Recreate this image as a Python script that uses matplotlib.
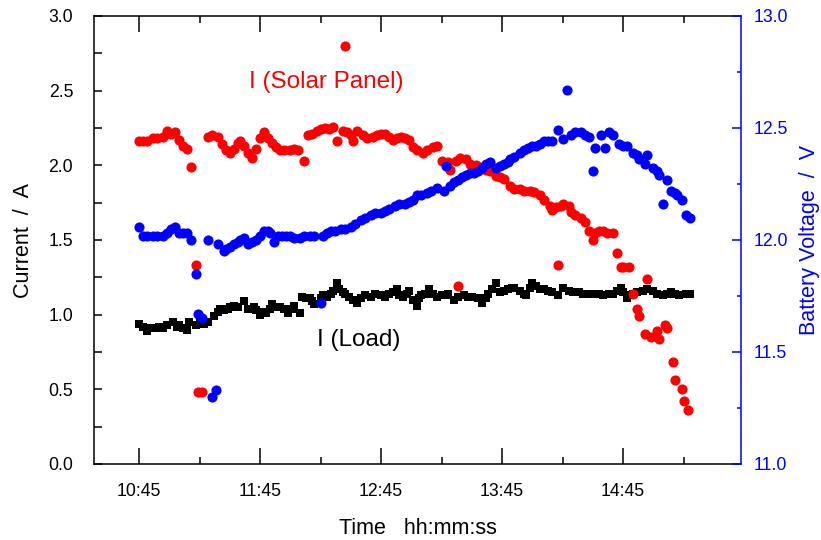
import matplotlib
matplotlib.use("Agg")
import matplotlib.pyplot as plt
from matplotlib.ticker import MultipleLocator, FixedLocator, FixedFormatter, FormatStrFormatter

plt.rcParams['font.family'] = ['Liberation Sans', 'DejaVu Sans']

# ---------------- data ----------------
solar_time = ["10:45","10:47","10:49","10:52","10:54","10:57","10:59","11:01","11:03","11:05","11:07","11:09",
              "11:11","11:13","11:14","11:16","11:19","11:21","11:24","11:26","11:28","11:30","11:32","11:34",
              "11:35","11:37","11:39","11:41","11:43","11:45","11:47","11:49","11:51","11:53","11:55","11:57",
              "12:00","12:02","12:04","12:07","12:09","12:11","12:13","12:15","12:17","12:19","12:21","12:23",
              "12:26","12:27","12:28","12:30","12:31","12:33","12:36","12:38","12:41","12:43","12:45","12:47",
              "12:49","12:51","12:53","12:55","12:57","12:59","13:01","13:03","13:06","13:08","13:11","13:13",
              "13:15","13:18","13:19","13:22","13:23","13:24","13:27","13:29","13:32","13:34","13:37","13:39",
              "13:42","13:44","13:46","13:49","13:51","13:54","13:56","13:59","14:01","14:04","14:06","14:09",
              "14:10","14:12","14:13","14:14","14:15","14:18","14:19","14:21","14:24","14:26","14:28","14:30",
              "14:31","14:33","14:35","14:37","14:40","14:42","14:44","14:45","14:48","14:50","14:52","14:53",
              "14:56","14:57","14:59","15:02","15:03","15:06","15:07","15:10","15:11","15:14","15:15","15:17"]
solar_current = [2.16,2.16,2.16,2.18,2.18,2.19,2.23,2.21,2.22,2.17,2.13,2.11,
                 1.99,1.33,0.48,0.48,2.19,2.20,2.19,2.14,2.10,2.08,2.11,2.15,
                 2.16,2.13,2.08,2.05,2.11,2.18,2.22,2.18,2.15,2.12,2.10,2.10,
                 2.10,2.11,2.10,2.03,2.20,2.21,2.23,2.24,2.25,2.24,2.26,2.16,
                 2.23,2.80,2.22,2.20,2.16,2.23,2.20,2.18,2.19,2.20,2.21,2.21,
                 2.19,2.17,2.18,2.19,2.18,2.17,2.12,2.10,2.08,2.10,2.12,2.13,
                 2.03,2.02,1.97,2.03,1.19,2.05,2.04,2.01,2.00,1.99,1.97,1.96,
                 1.93,1.92,1.91,1.86,1.84,1.84,1.83,1.83,1.82,1.80,1.77,1.73,
                 1.70,1.72,1.33,1.73,1.74,1.73,1.69,1.67,1.65,1.62,1.56,1.50,
                 1.55,1.56,1.56,1.55,1.55,1.41,1.32,1.32,1.32,1.14,1.04,0.99,
                 0.87,1.24,0.85,0.89,0.84,0.93,0.91,0.68,0.56,0.50,0.42,0.36]

load_time = ["10:45","10:47","10:49","10:51","10:53","10:55","10:57","10:59","11:02","11:04","11:05","11:07",
             "11:09","11:10","11:13","11:15","11:17","11:19","11:22","11:24","11:25","11:27","11:29","11:30",
             "11:32","11:34","11:37","11:39","11:42","11:43","11:45","11:47","11:48","11:50","11:51","11:53",
             "11:55","11:57","11:59","12:01","12:02","12:05","12:06","12:08","12:10","12:11","12:12","12:15",
             "12:16","12:18","12:20","12:21","12:23","12:24","12:26","12:27","12:29","12:31","12:33","12:35",
             "12:37","12:40","12:42","12:45","12:47","12:49","12:51","12:53","12:54","12:56","12:58","12:59",
             "13:01","13:03","13:04","13:05","13:07","13:09","13:11","13:13","13:15","13:17","13:18","13:21",
             "13:23","13:26","13:28","13:30","13:33","13:35","13:37","13:38","13:40","13:42","13:44","13:46",
             "13:48","13:50","13:51","13:54","13:56","13:57","13:59","14:00","14:02","14:04","14:06","14:08",
             "14:10","14:13","14:15","14:18","14:20","14:23","14:25","14:28","14:30","14:33","14:35","14:38",
             "14:40","14:42","14:44","14:45","14:47","14:48","14:50","14:52","14:55","14:57","15:00","15:02",
             "15:05","15:07","15:09","15:11","15:13","15:16","15:18"]
load_current = [0.94,0.92,0.89,0.91,0.91,0.92,0.91,0.93,0.95,0.92,0.93,0.91,
                0.90,0.95,0.93,0.96,0.94,0.95,0.99,1.02,1.04,1.03,1.04,1.05,
                1.06,1.05,1.09,1.04,1.05,1.03,1.00,1.02,1.01,1.04,1.07,1.05,
                1.05,1.04,1.01,1.04,1.06,1.01,1.12,1.11,1.11,1.09,1.07,1.11,
                1.13,1.12,1.14,1.16,1.21,1.17,1.15,1.14,1.12,1.10,1.08,1.11,
                1.13,1.12,1.14,1.13,1.12,1.14,1.15,1.17,1.13,1.12,1.14,1.16,
                1.10,1.06,1.11,1.13,1.14,1.17,1.14,1.12,1.13,1.13,1.14,1.10,
                1.12,1.13,1.12,1.12,1.11,1.08,1.11,1.14,1.17,1.21,1.15,1.16,
                1.17,1.18,1.18,1.16,1.14,1.13,1.18,1.21,1.19,1.17,1.17,1.16,
                1.15,1.13,1.18,1.16,1.15,1.15,1.14,1.14,1.14,1.14,1.13,1.14,
                1.14,1.16,1.18,1.15,1.11,1.13,1.14,1.15,1.16,1.17,1.16,1.14,
                1.13,1.14,1.15,1.14,1.13,1.14,1.14]

battery_time = ["10:45","10:47","10:49","10:52","10:54","10:57","10:59","11:01","11:03","11:05","11:07","11:09",
                "11:11","11:13","11:14","11:16","11:19","11:21","11:23","11:24","11:27","11:28","11:30","11:32",
                "11:34","11:35","11:37","11:39","11:41","11:43","11:45","11:47","11:49","11:50","11:52","11:54",
                "11:56","11:58","12:00","12:02","12:05","12:07","12:10","12:12","12:15","12:16","12:18","12:20",
                "12:22","12:25","12:27","12:30","12:32","12:35","12:37","12:40","12:42","12:45","12:47","12:49",
                "12:52","12:54","12:57","12:59","13:01","13:03","13:05","13:08","13:10","13:13","13:16","13:17",
                "13:19","13:21","13:23","13:25","13:27","13:29","13:31","13:33","13:35","13:37","13:39","13:42",
                "13:44","13:46","13:48","13:49","13:51","13:54","13:56","13:58","14:00","14:02","14:04","14:06",
                "14:08","14:10","14:13","14:15","14:17","14:19","14:21","14:24","14:26","14:28","14:30","14:31",
                "14:34","14:36","14:38","14:40","14:43","14:45","14:47","14:50","14:52","14:53","14:56","14:57",
                "15:00","15:02","15:03","15:05","15:07","15:09","15:11","15:12","15:14","15:16","15:18"]
battery_voltage = [12.06,12.02,12.02,12.02,12.02,12.02,12.03,12.05,12.06,12.03,12.03,12.03,
                   12.00,11.85,11.67,11.65,12.00,11.30,11.33,11.98,11.95,11.96,11.97,11.98,
                   11.99,12.00,12.01,11.98,11.99,12.00,12.02,12.04,12.04,12.03,11.99,12.02,
                   12.02,12.02,12.02,12.01,12.01,12.02,12.02,12.02,11.72,12.02,12.03,12.04,
                   12.04,12.05,12.05,12.06,12.07,12.09,12.10,12.11,12.12,12.12,12.13,12.14,
                   12.15,12.16,12.16,12.17,12.18,12.20,12.20,12.21,12.22,12.23,12.22,12.33,
                   12.24,12.26,12.27,12.28,12.29,12.30,12.30,12.31,12.32,12.34,12.35,12.32,
                   12.33,12.34,12.35,12.36,12.37,12.39,12.40,12.41,12.42,12.42,12.43,12.44,
                   12.44,12.44,12.49,12.45,12.67,12.47,12.48,12.48,12.47,12.46,12.31,12.41,
                   12.47,12.41,12.48,12.47,12.43,12.42,12.42,12.39,12.38,12.36,12.34,12.38,
                   12.32,12.31,12.29,12.16,12.27,12.22,12.21,12.20,12.18,12.11,12.10]

x_range = ["10:22:40", "15:43:30"]
x_tick_labels = ["10:45", "11:45", "12:45", "13:45", "14:45"]
current_range = [0.0, 3.0]
voltage_range = [11.0, 13.0]


def to_min(s):
    parts = [int(p) for p in s.split(":")]
    while len(parts) < 3:
        parts.append(0)
    return parts[0] * 60 + parts[1] + parts[2] / 60.0


RED = "#ff0000"
BLUE = "#0000ff"

fig = plt.figure(figsize=(8.21, 5.40), dpi=100)
ax = fig.add_axes([94 / 821, 76 / 540, 647 / 821, 448 / 540])
ax2 = ax.twinx()

ax.plot([to_min(t) for t in load_time], load_current, ls="none", marker="s",
        ms=6.2, mfc="black", mec="black", mew=0, zorder=2)
ax.plot([to_min(t) for t in solar_time], solar_current, ls="none", marker="o",
        ms=7.3, mfc=RED, mec=RED, mew=0, zorder=3)
ax2.plot([to_min(t) for t in battery_time], battery_voltage, ls="none", marker="o",
         ms=7.3, mfc=BLUE, mec=BLUE, mew=0, zorder=3)

ax.set_xlim(to_min(x_range[0]), to_min(x_range[1]))
ax.set_ylim(*current_range)
ax2.set_ylim(*voltage_range)

major_x = [to_min(t) for t in x_tick_labels]
ax.xaxis.set_major_locator(FixedLocator(major_x))
ax.xaxis.set_major_formatter(FixedFormatter(x_tick_labels))
ax.xaxis.set_minor_locator(FixedLocator([m + 30 for m in major_x]))

ax.yaxis.set_major_locator(MultipleLocator(0.5))
ax.yaxis.set_minor_locator(MultipleLocator(0.25))
ax.yaxis.set_major_formatter(FormatStrFormatter("%.1f"))
ax2.yaxis.set_major_locator(MultipleLocator(0.5))
ax2.yaxis.set_minor_locator(MultipleLocator(0.25))
ax2.yaxis.set_major_formatter(FormatStrFormatter("%.1f"))

ax.tick_params(axis="x", which="major", direction="in", length=11.5, width=1.1,
               top=True, bottom=True, labelsize=12.7, pad=14)
ax.tick_params(axis="x", which="minor", direction="in", length=5, width=1.1, top=True, bottom=True)
ax.tick_params(axis="y", which="both", direction="in", length=5.8, width=1.1,
               left=True, right=False, labelsize=12.7, pad=15)
ax2.tick_params(axis="y", which="major", direction="in", length=6.5, width=1.1,
                colors=BLUE, labelsize=12.7, pad=9)
ax2.tick_params(axis="y", which="minor", direction="in", length=3, width=1.1, colors=BLUE)

for sp in ["left", "top", "bottom"]:
    ax.spines[sp].set_linewidth(1.1)
    ax.spines[sp].set_color("black")
    ax2.spines[sp].set_visible(False)
ax.spines["right"].set_visible(False)
ax2.spines["right"].set_color(BLUE)
ax2.spines["right"].set_linewidth(1.1)

ax.set_xlabel("Time   hh:mm:ss", fontsize=15.5, labelpad=13)
ax.set_ylabel("Current  /  A", fontsize=15.5, labelpad=10)
ax2.set_ylabel("Battery Voltage  /  V", fontsize=15.5, color=BLUE, labelpad=8)

ax.text(0.3586, 0.852, "I (Solar Panel)", transform=ax.transAxes, color=RED,
        fontsize=17.5, ha="center", va="center")
ax.text(0.4096, 0.277, "I (Load)", transform=ax.transAxes, color="black",
        fontsize=17.5, ha="center", va="center")

fig.savefig("out.png", dpi=100)
